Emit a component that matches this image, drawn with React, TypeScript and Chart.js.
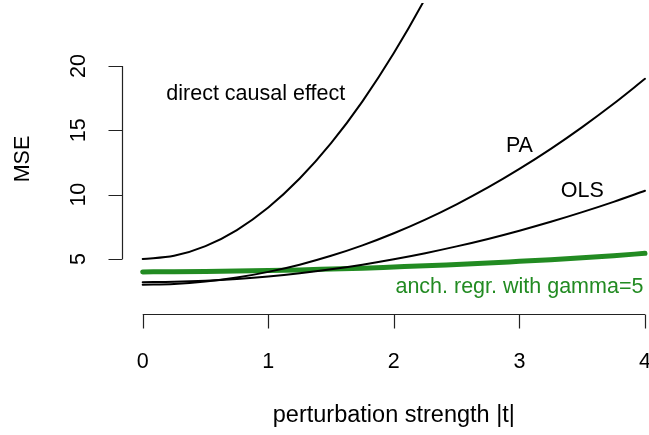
import { useEffect, useRef } from "react";
import { Chart, registerables } from "chart.js";

Chart.register(...registerables);

// perturbation strength |t|
const tValues = [0, 0.25, 0.5, 0.75, 1, 1.25, 1.5, 1.75, 2, 2.25, 2.5, 2.75, 3, 3.25, 3.5, 3.75, 4];
// MSE curves
const directCausal = [5.0, 5.25, 6.0, 7.25, 9.0, 11.25, 14.0, 17.25, 21.0, 25.25, 30.0, 35.25, 41.0, 47.25, 54.0, 61.25, 69.0];
const paValues = [3.0, 3.06, 3.25, 3.56, 4.0, 4.56, 5.25, 6.06, 7.0, 8.06, 9.25, 10.56, 12.0, 13.56, 15.25, 17.06, 19.0];
const olsValues = [3.2, 3.23, 3.31, 3.45, 3.64, 3.89, 4.2, 4.56, 4.98, 5.45, 5.98, 6.56, 7.2, 7.89, 8.64, 9.44, 10.3];
const anchorValues = [4.0, 4.01, 4.03, 4.06, 4.1, 4.15, 4.22, 4.29, 4.38, 4.47, 4.58, 4.69, 4.82, 4.95, 5.1, 5.26, 5.44];

const xTicks = [0, 1, 2, 3, 4];
const yTicks = [5, 10, 15, 20];

const xTitle = "perturbation strength |t|";
const yTitle = "MSE";

const curveLabelTexts = ["direct causal effect", "PA", "OLS", "anch. regr. with gamma=5"];
const curveLabelT = [0.9, 3.0, 3.5, 3.0];
const curveLabelV = [17.35, 13.34, 9.79, 2.33];
const curveLabelColors = ["#000000", "#000000", "#000000", "#228B22"];

const GREEN = "#228B22";
const FONT = "'Liberation Sans', Arial, Helvetica, sans-serif";

function toPoints(vals: number[]) {
  return tValues.map((t, i) => ({ x: t, y: vals[i] }));
}

const rAxesPlugin = {
  id: "rAxes",
  afterDraw(chart: any) {
    const ctx = chart.ctx as CanvasRenderingContext2D;
    const xs = chart.scales.x;
    const ys = chart.scales.y;
    const area = chart.chartArea;
    const axisY = area.bottom - 0.5;
    const axisX = area.left - 0.5;
    const tick = 14;
    ctx.save();
    ctx.strokeStyle = "#222";
    ctx.lineWidth = 1.2;
    // x axis
    ctx.beginPath();
    ctx.moveTo(xs.getPixelForValue(xTicks[0]), axisY);
    ctx.lineTo(xs.getPixelForValue(xTicks[xTicks.length - 1]), axisY);
    xTicks.forEach((v) => {
      const px = Math.round(xs.getPixelForValue(v)) + 0.5;
      ctx.moveTo(px, axisY);
      ctx.lineTo(px, axisY + tick);
    });
    // y axis
    ctx.moveTo(axisX, ys.getPixelForValue(yTicks[0]));
    ctx.lineTo(axisX, ys.getPixelForValue(yTicks[yTicks.length - 1]));
    yTicks.forEach((v) => {
      const py = Math.round(ys.getPixelForValue(v)) + 0.5;
      ctx.moveTo(axisX, py);
      ctx.lineTo(axisX - tick, py);
    });
    ctx.stroke();

    ctx.fillStyle = "#000";
    ctx.font = `21.5px ${FONT}`;
    ctx.textAlign = "center";
    ctx.textBaseline = "alphabetic";
    xTicks.forEach((v) => {
      ctx.fillText(String(v), xs.getPixelForValue(v), 368);
    });
    yTicks.forEach((v) => {
      ctx.save();
      ctx.translate(85, ys.getPixelForValue(v));
      ctx.rotate(-Math.PI / 2);
      ctx.fillText(String(v), 0, 0);
      ctx.restore();
    });
    // titles
    ctx.font = `23.5px ${FONT}`;
    ctx.fillText(xTitle, (xs.getPixelForValue(0) + xs.getPixelForValue(4)) / 2, 421.5);
    ctx.font = `21.5px ${FONT}`;
    ctx.save();
    ctx.translate(29, (area.top + area.bottom) / 2);
    ctx.rotate(-Math.PI / 2);
    ctx.fillText(yTitle, 0, 0);
    ctx.restore();

    // curve labels
    curveLabelTexts.forEach((txt, i) => {
      ctx.fillStyle = curveLabelColors[i];
      ctx.fillText(txt, xs.getPixelForValue(curveLabelT[i]), ys.getPixelForValue(curveLabelV[i]));
    });
    ctx.restore();
  },
};

export default function App() {
  const canvasRef = useRef<HTMLCanvasElement | null>(null);

  useEffect(() => {
    const canvas = canvasRef.current;
    if (!canvas) return;
    const mk = (label: string, vals: number[], color: string, width: number) => ({
      label,
      data: toPoints(vals),
      borderColor: color,
      borderWidth: width,
      borderCapStyle: "round",
      borderJoinStyle: "round",
      cubicInterpolationMode: "monotone",
      pointRadius: 0,
    });
    const chart = new Chart(canvas, {
      type: "line",
      data: {
        datasets: [
          mk("direct causal effect", directCausal, "#000", 2),
          mk("PA", paValues, "#000", 2),
          mk("OLS", olsValues, "#000", 2),
          mk("anch. regr. with gamma=5", anchorValues, GREEN, 5),
        ],
      },
      options: {
        animation: false,
        responsive: false,
        devicePixelRatio: 1,
        layout: { padding: { left: 123, top: 3, right: 0, bottom: 120 } },
        scales: {
          x: { type: "linear", display: false, min: -0.1569, max: 4.0319 },
          y: { type: "linear", display: false, min: 0.65, max: 24.89 },
        },
        plugins: {
          legend: { display: false },
          tooltip: { enabled: false },
        },
        events: [],
      },
      plugins: [rAxesPlugin],
    } as any);
    return () => chart.destroy();
  }, []);

  return (
    <div
      style={{
        position: "fixed",
        left: 0,
        top: 0,
        width: 649,
        height: 435,
        overflow: "hidden",
        background: "#fff",
      }}
    >
      <canvas ref={canvasRef} width={649} height={435} style={{ width: 649, height: 435, display: "block" }} />
    </div>
  );
}
